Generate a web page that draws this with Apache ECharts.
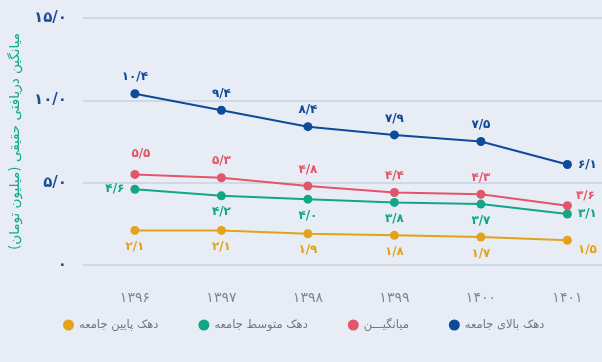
<!DOCTYPE html>
<html>
<head>
<meta charset="utf-8">
<script src="https://cdn.jsdelivr.net/npm/echarts@6/dist/echarts.min.js"></script>
<style>
  html, body { margin: 0; padding: 0; background: #e8edf5; }
  #chart { width: 602px; height: 362px; }
</style>
</head>
<body>
<div id="chart"></div>
<script>
// Years (Solar Hijri) and real average income, million tomans
const years = [1396, 1397, 1398, 1399, 1400, 1401];
const topDecile = [10.4, 9.4, 8.4, 7.9, 7.5, 6.1];
const average = [5.5, 5.3, 4.8, 4.4, 4.3, 3.6];
const middleDecile = [4.6, 4.2, 4.0, 3.8, 3.7, 3.1];
const bottomDecile = [2.1, 2.1, 1.9, 1.8, 1.7, 1.5];
const yTicks = [0, 5, 10, 15];

const seriesNames = ['دهک پایین جامعه', 'دهک متوسط جامعه', 'میانگیـــن', 'دهک بالای جامعه'];
const colors = ['#e3a21c', '#12a687', '#e2566a', '#0d4a9a'];

const FONT = 'DejaVu Sans';

// Western digits -> Persian digits, decimal point shown as '/'
function fa(str) {
  return String(str).replace(/[0-9]/g, d => '۰۱۲۳۴۵۶۷۸۹'[+d]).replace('.', '/');
}
function faVal(v) {
  return fa(v.toFixed(1));
}

function pairs(values) {
  return years.map((y, i) => [y, values[i]]);
}

function makeSeries(name, values, color, labelCfg) {
  return {
    name: name,
    type: 'line',
    data: pairs(values).map((p, i) => {
      const item = { value: p };
      if (labelCfg.overrides && labelCfg.overrides[i]) {
        item.label = labelCfg.overrides[i];
      }
      return item;
    }),
    symbol: 'circle',
    symbolSize: 9,
    lineStyle: { color: color, width: 2 },
    itemStyle: { color: color },
    label: {
      show: true,
      position: labelCfg.position,
      distance: 6,
      color: color,
      fontFamily: FONT,
      fontSize: 12,
      fontWeight: 'bold',
      formatter: p => faVal(p.value[1])
    },
    emphasis: { disabled: true },
    animation: false
  };
}

const chart = echarts.init(document.getElementById('chart'));
chart.setOption({
  backgroundColor: '#e8edf5',
  animation: false,
  color: colors,
  grid: { left: 78, right: 0, top: 18, bottom: 97 },
  legend: {
    data: seriesNames,
    bottom: 26,
    left: 58,
    icon: 'circle',
    itemWidth: 11,
    itemHeight: 11,
    itemGap: 40,
    textStyle: { color: '#707782', fontFamily: FONT, fontSize: 11.5 }
  },
  xAxis: {
    type: 'value',
    min: 1395.4,
    max: 1401.4,
    axisLine: { show: false },
    axisTick: { show: false },
    splitLine: { show: false },
    axisLabel: {
      customValues: years,
      formatter: v => fa(Math.round(v)),
      color: '#80868f',
      fontFamily: FONT,
      fontSize: 14,
      margin: 26
    }
  },
  yAxis: {
    type: 'value',
    min: 0,
    max: 15,
    interval: 5,
    name: 'میانگین دریافتی حقیقی (میلیون تومان)',
    nameLocation: 'middle',
    nameGap: 61,
    nameRotate: 90,
    nameTextStyle: { color: '#14a98b', fontFamily: FONT, fontSize: 13.5 },
    axisLine: { show: false },
    axisTick: { show: false },
    splitLine: { lineStyle: { color: '#c8d1df', width: 1.5 } },
    axisLabel: {
      customValues: yTicks,
      formatter: v => v === 0 ? fa(0) : faVal(v),
      color: '#1d4f98',
      fontFamily: FONT,
      fontSize: 15,
      fontWeight: 'bold',
      margin: 16
    }
  },
  series: [
    makeSeries(seriesNames[0], bottomDecile, colors[0], {
      position: 'bottom',
      overrides: { 5: { position: 'right', offset: [0, 10] } }
    }),
    makeSeries(seriesNames[1], middleDecile, colors[1], {
      position: 'bottom',
      overrides: { 0: { position: 'left' }, 5: { position: 'right' } }
    }),
    makeSeries(seriesNames[2], average, colors[2], {
      position: 'top',
      overrides: { 0: { position: 'top', offset: [6, -4] }, 5: { position: 'right', offset: [-2, -10] } }
    }),
    makeSeries(seriesNames[3], topDecile, colors[3], {
      position: 'top',
      overrides: { 5: { position: 'right' } }
    })
  ]
});
</script>
</body>
</html>
